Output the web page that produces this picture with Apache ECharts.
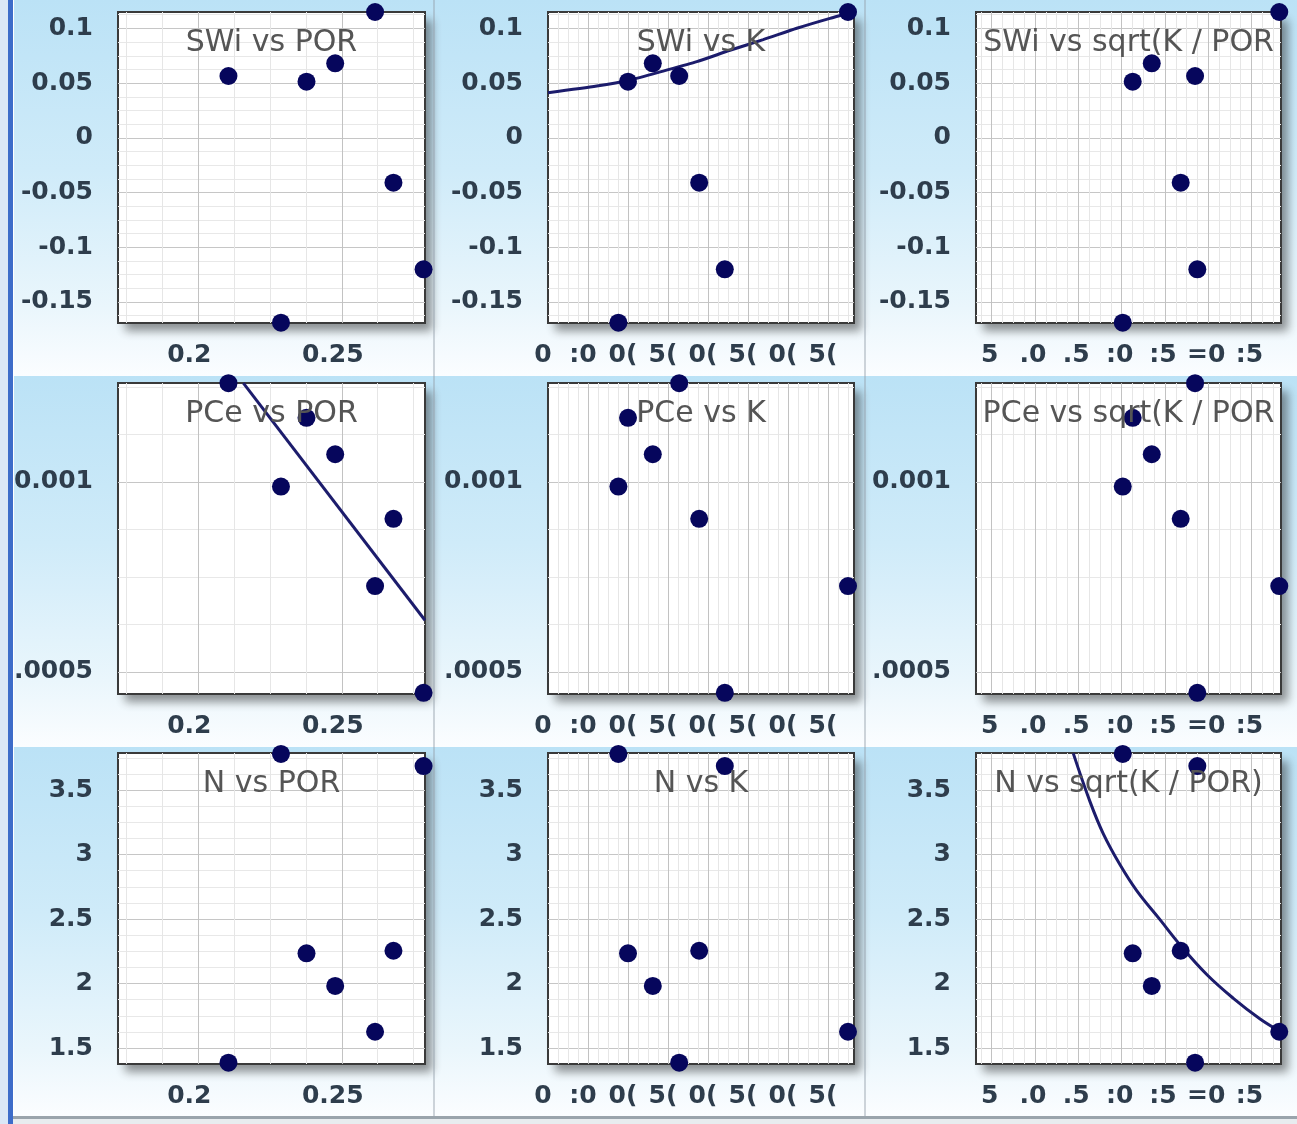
<!DOCTYPE html>
<html>
<head>
<meta charset="utf-8">
<script src="https://cdn.jsdelivr.net/npm/echarts@6/dist/echarts.min.js"></script>
<style>
html, body { margin: 0; padding: 0; background: #ffffff; }
#chart { width: 1297px; height: 1124px; }
</style>
</head>
<body>
<div id="chart"></div>
<script>
// Core samples A..G
const POR  = [0.2105, 0.2288, 0.2377, 0.2477, 0.2616, 0.2680, 0.2785];
const K    = [164, 88, 100, 131, 375, 189, 221];
const SQKP = [28.48, 20.13, 21.28, 23.48, 38.2, 26.82, 28.74];
const SWI  = [0.0565, -0.1690, 0.0513, 0.0681, 0.1150, -0.0410, -0.1202];
const PCE  = [0.00126, 0.000988, 0.001169, 0.001073, 0.000726, 0.000903, 0.000445];
const NEXP = [1.386, 3.78, 2.234, 1.981, 1.626, 2.254, 3.686];

// Trend curves, sampled along the drawn fit
const fitSwiK_K   = [0, 61, 102.5, 144, 186, 227.5, 269, 311, 352.5, 382.5];
const fitSwiK_SWI = [0.0412, 0.0473, 0.0528, 0.0610, 0.0696, 0.0800, 0.0897, 0.1001, 0.1092, 0.1150];
const fitPcePor_POR = [0.2157, 0.2790];
const fitPcePor_PCE = [0.00126, 0.000636];
const fitNSq_SQ = [14.42, 16.35, 17.89, 19.82, 21.74, 24.43, 26.74, 29.83, 32.90, 35.99, 38.37];
const fitNSq_N  = [3.784, 3.410, 3.160, 2.920, 2.720, 2.495, 2.300, 2.070, 1.885, 1.725, 1.626];

// Tick label text as printed under each column / beside each row
const porTickText  = { '0.2': '0.2', '0.25': '0.25' };
const kTickText    = ['0', ':0', '0(', '5(', '0(', '5(', '0(', '5('];          // 0,50,...,350
const sqTickText   = ['5', '.0', '.5', ':0', ':5', '=0', ':5'];                // 5,10,...,35
const pceTickText  = { '0.0005': '.0005', '0.001': '0.001' };

const colNames = ['POR', 'K', 'sqrt(K / POR)'];
const rowNames = ['SWi', 'PCe', 'N'];
const colVals = [POR, K, SQKP];
const rowVals = [SWI, PCE, NEXP];

const xMin = [0.172, 0, 3.19], xMax = [0.279, 382.5, 38.4], xStep = [0.05, 50, 5];
const yMin = [-0.1693, 0.000442, 1.376], yMax = [0.115, 0.0012605, 3.787], yStep = [0.05, 0.0005, 0.5];

// layout of the 3x3 panel
const gLeft = [118, 548, 976], gW = [307, 306, 305];
const gTop = [12, 383, 753], gH = 311;
const labelShift = [18, 10, 4];
const cellX = [[14, 434], [434, 865], [865, 1297]];
const cellY = [[0, 376], [376, 747], [747, 1116]];

const FONT = 'DejaVu Sans';
const LABEL_COLOR = '#2e3d4c';
const DOT = '#06065c';
const FIT = '#1c1c6c';

function onStep(v, step) {
  const q = v / step;
  return Math.abs(q - Math.round(q)) < 1e-6;
}
function xFormatter(c) {
  return function (v) {
    if (!onStep(v, xStep[c])) return '';
    const i = Math.round(v / xStep[c]);
    if (c === 0) return porTickText[String(+v.toFixed(4))] || '';
    if (c === 1) return kTickText[i] || '';
    return sqTickText[i - 1] || '';
  };
}
function yFormatter(r) {
  return function (v) {
    if (!onStep(v, yStep[r])) return '';
    const s = String(+v.toFixed(6));
    if (r === 1) return pceTickText[s] || '';
    return s;
  };
}

const grids = [], xAxes = [], yAxes = [], series = [], titles = [], graphics = [];

// cell backgrounds
for (let r = 0; r < 3; r++) {
  for (let c = 0; c < 3; c++) {
    graphics.push({
      type: 'rect', silent: true, z: -10,
      shape: { x: cellX[c][0], y: cellY[r][0], width: cellX[c][1] - cellX[c][0], height: cellY[r][1] - cellY[r][0] },
      style: {
        fill: new echarts.graphic.LinearGradient(0, 0, 0, 1, [
          { offset: 0, color: '#bbe2f6' },
          { offset: 0.45, color: '#cfebf9' },
          { offset: 0.82, color: '#eaf6fc' },
          { offset: 1, color: '#fbfdff' }
        ])
      }
    });
  }
}

for (let r = 0; r < 3; r++) {
  for (let c = 0; c < 3; c++) {
    const idx = r * 3 + c;
    // drop shadow behind each plot frame
    graphics.push({
      type: 'rect', silent: true, z: -5,
      shape: { x: gLeft[c], y: gTop[r], width: gW[c], height: gH },
      style: {
        fill: '#ffffff', shadowColor: 'rgba(40,40,40,0.5)',
        shadowBlur: 9, shadowOffsetX: 7, shadowOffsetY: 8
      }
    });
    grids.push({
      left: gLeft[c], top: gTop[r], width: gW[c], height: gH,
      show: true, backgroundColor: '#ffffff',
      borderColor: '#3a3a3a', borderWidth: 2
    });
    const useInterval = xMin[c] % xStep[c] === 0;
    xAxes.push({
      gridIndex: idx, type: 'value', min: xMin[c], max: xMax[c],
      interval: useInterval ? xStep[c] : undefined,
      minInterval: useInterval ? undefined : xStep[c],
      maxInterval: useInterval ? undefined : xStep[c],
      axisLine: { show: false }, axisTick: { show: false },
      axisLabel: {
        formatter: xFormatter(c), margin: 20, padding: [0, labelShift[c], 0, 0],
        fontFamily: FONT, fontSize: 25, fontWeight: 'bold', color: LABEL_COLOR,
        showMinLabel: true, showMaxLabel: true
      },
      splitLine: { show: true, showMinLine: false, showMaxLine: false, lineStyle: { color: '#c2c2c2', width: 1 } },
      minorTick: { show: false, splitNumber: 4 },
      minorSplitLine: { show: true, lineStyle: { color: '#e6e6e6', width: 1 } }
    });
    yAxes.push({
      gridIndex: idx, type: 'value', min: yMin[r], max: yMax[r],
      minInterval: yStep[r], maxInterval: yStep[r],
      axisLine: { show: false }, axisTick: { show: false },
      axisLabel: {
        formatter: yFormatter(r), margin: 25,
        fontFamily: FONT, fontSize: 25, fontWeight: 'bold', color: LABEL_COLOR
      },
      splitLine: { show: true, showMinLine: false, showMaxLine: false, lineStyle: { color: '#c6c6c6', width: 1 } },
      minorTick: { show: false, splitNumber: 4 },
      minorSplitLine: { show: true, lineStyle: { color: '#e8e8e8', width: 1 } }
    });
    titles.push({
      text: rowNames[r] + ' vs ' + colNames[c],
      left: gLeft[c] + gW[c] / 2, top: gTop[r] + 16, textAlign: 'center', padding: 0,
      textStyle: {
        fontFamily: FONT, fontSize: 30, fontWeight: 'normal', color: '#555555',
        width: gW[c] - 2, overflow: 'truncate', ellipsis: ''
      }
    });
    const xs = colVals[c], ys = rowVals[r];
    series.push({
      type: 'scatter', xAxisIndex: idx, yAxisIndex: idx, z: 4,
      data: xs.map((x, i) => [x, ys[i]]),
      symbol: 'circle', symbolSize: 18, clip: true, silent: true,
      itemStyle: { color: DOT, opacity: 1 }
    });
  }
}

function fitLine(idx, xs, ys, smooth) {
  return {
    type: 'line', xAxisIndex: idx, yAxisIndex: idx, z: 3,
    data: xs.map((x, i) => [x, ys[i]]),
    showSymbol: false, smooth: smooth, clip: true, silent: true,
    lineStyle: { color: FIT, width: 3 }
  };
}
series.push(fitLine(1, fitSwiK_K, fitSwiK_SWI, 0.2));
series.push(fitLine(3, fitPcePor_POR, fitPcePor_PCE, false));
series.push(fitLine(8, fitNSq_SQ, fitNSq_N, 0.4));

// window frame pieces drawn over everything
graphics.push(
  { type: 'rect', silent: true, z: 100, shape: { x: 433, y: 0, width: 2, height: 1116 }, style: { fill: 'rgba(150,162,172,0.45)' } },
  { type: 'rect', silent: true, z: 100, shape: { x: 864, y: 0, width: 2, height: 1116 }, style: { fill: 'rgba(150,162,172,0.45)' } },
  { type: 'rect', silent: true, z: 100, shape: { x: 0, y: 0, width: 8, height: 1124 }, style: { fill: '#dbe7f6' } },
  { type: 'rect', silent: true, z: 100, shape: { x: 8, y: 0, width: 5, height: 1124 }, style: { fill: '#3d6cc9' } },
  { type: 'rect', silent: true, z: 100, shape: { x: 13, y: 1116, width: 1284, height: 8 }, style: { fill: '#e8ecef' } },
  { type: 'rect', silent: true, z: 100, shape: { x: 13, y: 1116, width: 1284, height: 3 }, style: { fill: '#9aa4ac' } }
);

const chart = echarts.init(document.getElementById('chart'), null, { renderer: 'canvas' });
chart.setOption({
  animation: false,
  backgroundColor: '#ffffff',
  title: titles,
  grid: grids,
  xAxis: xAxes,
  yAxis: yAxes,
  series: series,
  graphic: { elements: graphics }
});
</script>
</body>
</html>
